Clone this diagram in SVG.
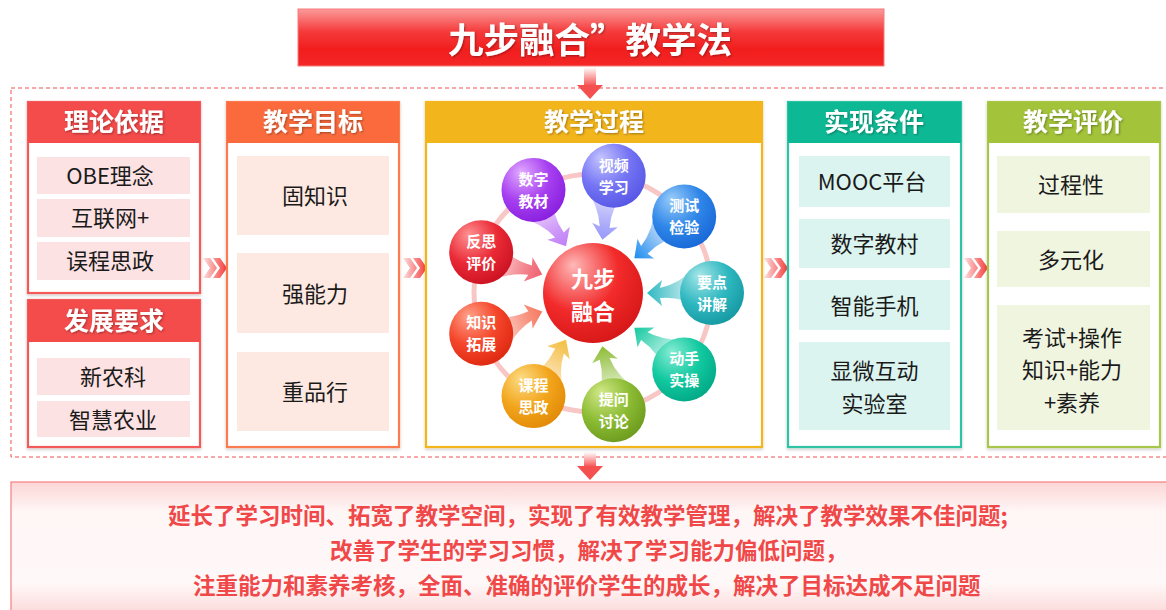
<svg xmlns="http://www.w3.org/2000/svg" width="1166" height="610" viewBox="0 0 1166 610">
<style>
text{font-family:"Noto Sans CJK SC","Noto Sans",sans-serif}
.hd{font-size:25px;font-weight:700;fill:#fff;text-anchor:middle}
.it{font-size:22px;fill:#1a1a1a;text-anchor:middle}
.ct{font-size:15px;font-weight:700;fill:#fff;text-anchor:middle}
.bt{font-size:22.5px;font-weight:700;fill:#f04848}
.box{fill:#fff;stroke-width:2.2}
</style>
<defs>
<filter id="sh" x="-10%" y="-10%" width="120%" height="120%"><feDropShadow dx="0" dy="1.5" stdDeviation="1.5" flood-color="#000" flood-opacity="0.22"/></filter>
<filter id="ts" x="-10%" y="-20%" width="120%" height="140%"><feDropShadow dx="1" dy="1" stdDeviation="1" flood-color="#000" flood-opacity="0.35"/></filter>
<linearGradient id="tg" x1="0" y1="0" x2="0" y2="1"><stop offset="0" stop-color="#fb9a9a"/><stop offset="0.4" stop-color="#f53a3a"/><stop offset="0.7" stop-color="#f21e1e"/><stop offset="1" stop-color="#f42626"/></linearGradient>
<linearGradient id="ag" x1="0" y1="0" x2="0" y2="1"><stop offset="0" stop-color="#fff"/><stop offset="1" stop-color="#f55050"/></linearGradient>
<linearGradient id="chg" x1="0" y1="0" x2="1" y2="0"><stop offset="0" stop-color="#fde0e0"/><stop offset="1" stop-color="#f43c3c"/></linearGradient>
<linearGradient id="bg" x1="0" y1="0" x2="0" y2="1"><stop offset="0" stop-color="#fcd6d6"/><stop offset="0.22" stop-color="#fff6f6"/><stop offset="0.75" stop-color="#fff8f8"/><stop offset="1" stop-color="#fcd6d6"/></linearGradient>
<path id="chev" d="M0,0 H7 L14,10 L7,20 H0 L7,10 Z M10,0 H17 L24,10 L17,20 H10 L17,10 Z"/>
<path id="arw" d="M54,0 L69,-13 Q68,-9 67,-5 Q86,-9 104,-27 L108,15 Q88,3 67,5 Q68,9 69,13 Z"/>
<radialGradient id="s0" cx="0.38" cy="0.32" r="0.75" fx="0.3" fy="0.22"><stop offset="0" stop-color="#ffb8b8"/><stop offset="0.55" stop-color="#f22a2a"/><stop offset="1" stop-color="#d41616"/></radialGradient>
<radialGradient id="s1" cx="0.38" cy="0.32" r="0.75" fx="0.3" fy="0.22"><stop offset="0" stop-color="#a6e6e8"/><stop offset="0.55" stop-color="#2fb8c0"/><stop offset="1" stop-color="#1396a0"/></radialGradient>
<radialGradient id="s2" cx="0.38" cy="0.32" r="0.75" fx="0.3" fy="0.22"><stop offset="0" stop-color="#86ecd4"/><stop offset="0.55" stop-color="#12c9a0"/><stop offset="1" stop-color="#00a684"/></radialGradient>
<radialGradient id="s3" cx="0.38" cy="0.32" r="0.75" fx="0.3" fy="0.22"><stop offset="0" stop-color="#d2e888"/><stop offset="0.55" stop-color="#8cbc34"/><stop offset="1" stop-color="#6a981c"/></radialGradient>
<radialGradient id="s4" cx="0.38" cy="0.32" r="0.75" fx="0.3" fy="0.22"><stop offset="0" stop-color="#fcdc84"/><stop offset="0.55" stop-color="#f2a51c"/><stop offset="1" stop-color="#e08806"/></radialGradient>
<radialGradient id="s5" cx="0.38" cy="0.32" r="0.75" fx="0.3" fy="0.22"><stop offset="0" stop-color="#ffa28a"/><stop offset="0.55" stop-color="#f4452a"/><stop offset="1" stop-color="#dc260e"/></radialGradient>
<radialGradient id="s6" cx="0.38" cy="0.32" r="0.75" fx="0.3" fy="0.22"><stop offset="0" stop-color="#ff9292"/><stop offset="0.55" stop-color="#ea2a36"/><stop offset="1" stop-color="#c81020"/></radialGradient>
<radialGradient id="s7" cx="0.38" cy="0.32" r="0.75" fx="0.3" fy="0.22"><stop offset="0" stop-color="#e2aaff"/><stop offset="0.55" stop-color="#a63ff0"/><stop offset="1" stop-color="#861cdc"/></radialGradient>
<radialGradient id="s8" cx="0.38" cy="0.32" r="0.75" fx="0.3" fy="0.22"><stop offset="0" stop-color="#c4c4ff"/><stop offset="0.55" stop-color="#7474f4"/><stop offset="1" stop-color="#5454e4"/></radialGradient>
<radialGradient id="s9" cx="0.38" cy="0.32" r="0.75" fx="0.3" fy="0.22"><stop offset="0" stop-color="#98ccfa"/><stop offset="0.55" stop-color="#2f86e8"/><stop offset="1" stop-color="#1666d6"/></radialGradient>
<linearGradient id="a1" x1="1" y1="0" x2="0" y2="0"><stop offset="0" stop-color="#2fb8c0" stop-opacity="0.08"/><stop offset="1" stop-color="#2fb8c0"/></linearGradient>
<linearGradient id="a2" x1="1" y1="0" x2="0" y2="0"><stop offset="0" stop-color="#12c9a0" stop-opacity="0.08"/><stop offset="1" stop-color="#12c9a0"/></linearGradient>
<linearGradient id="a3" x1="1" y1="0" x2="0" y2="0"><stop offset="0" stop-color="#8cbc34" stop-opacity="0.08"/><stop offset="1" stop-color="#8cbc34"/></linearGradient>
<linearGradient id="a4" x1="1" y1="0" x2="0" y2="0"><stop offset="0" stop-color="#f2a51c" stop-opacity="0.08"/><stop offset="1" stop-color="#f2c040"/></linearGradient>
<linearGradient id="a5" x1="1" y1="0" x2="0" y2="0"><stop offset="0" stop-color="#f4452a" stop-opacity="0.08"/><stop offset="1" stop-color="#f57a60"/></linearGradient>
<linearGradient id="a6" x1="1" y1="0" x2="0" y2="0"><stop offset="0" stop-color="#ea2a36" stop-opacity="0.08"/><stop offset="1" stop-color="#f06070"/></linearGradient>
<linearGradient id="a7" x1="1" y1="0" x2="0" y2="0"><stop offset="0" stop-color="#a63ff0" stop-opacity="0.08"/><stop offset="1" stop-color="#c080f8"/></linearGradient>
<linearGradient id="a8" x1="1" y1="0" x2="0" y2="0"><stop offset="0" stop-color="#7474f4" stop-opacity="0.08"/><stop offset="1" stop-color="#9898fa"/></linearGradient>
<linearGradient id="a9" x1="1" y1="0" x2="0" y2="0"><stop offset="0" stop-color="#2f86e8" stop-opacity="0.08"/><stop offset="1" stop-color="#1a8cf0"/></linearGradient>
</defs>

<!-- title -->
<g id="title">
<rect x="298" y="9" width="586" height="57" fill="url(#tg)" stroke="#f77a7a" stroke-width="1"/>
<text x="590" y="53" font-size="35.5" font-weight="700" fill="#fff" text-anchor="middle" filter="url(#ts)">九步融合”教学法</text>
</g>

<!-- frame -->
<rect id="frame" x="11" y="88" width="1160" height="369" fill="none" stroke="#f05050" stroke-width="1" stroke-dasharray="4 3"/>

<!-- connectors -->
<g id="connectors">
<rect x="584" y="67" width="12" height="19" fill="url(#ag)"/>
<polygon points="577,85 603,85 590,99" fill="#f55050"/>
<rect x="584" y="452" width="12" height="15" fill="url(#ag)"/>
<polygon points="577,466 603,466 590,480" fill="#f55050"/>
<use href="#chev" x="203" y="258" fill="url(#chg)"/>
<use href="#chev" x="403" y="258" fill="url(#chg)"/>
<use href="#chev" x="764" y="258" fill="url(#chg)"/>
<use href="#chev" x="964" y="258" fill="url(#chg)"/>
</g>

<!-- column 1a -->
<g id="n-lilun" filter="url(#sh)">
<rect class="box" x="28" y="102" width="172" height="191" stroke="#f55a5a"/>
<rect x="28" y="102" width="172" height="41" fill="#f44b4b"/>
<text class="hd" x="114" y="131" filter="url(#ts)">理论依据</text>
</g>
<g id="n-obe"><rect x="37" y="157" width="153" height="37" fill="#fde2e3"/><text class="it" x="110" y="184">OBE理念</text></g>
<g id="n-hlw"><rect x="37" y="199" width="153" height="38" fill="#fde2e3"/><text class="it" x="110" y="226">互联网+</text></g>
<g id="n-kcsz"><rect x="37" y="242" width="153" height="38" fill="#fde2e3"/><text class="it" x="110" y="269">误程思政</text></g>

<!-- column 1b -->
<g id="n-fazhan" filter="url(#sh)">
<rect class="box" x="28" y="300" width="172" height="147" stroke="#f55a5a"/>
<rect x="28" y="300" width="172" height="42" fill="#f44b4b"/>
<text class="hd" x="114" y="329.5" filter="url(#ts)">发展要求</text>
</g>
<g id="n-xnk"><rect x="37" y="358" width="153" height="37" fill="#fde2e3"/><text class="it" x="113" y="385">新农科</text></g>
<g id="n-zhny"><rect x="37" y="401" width="153" height="36" fill="#fde2e3"/><text class="it" x="113" y="427.5">智慧农业</text></g>

<!-- column 2 -->
<g id="n-mubiao" filter="url(#sh)">
<rect class="box" x="227" y="102" width="172" height="345" stroke="#fb7a50"/>
<rect x="227" y="102" width="172" height="41" fill="#fa6b3c"/>
<text class="hd" x="313" y="131" filter="url(#ts)">教学目标</text>
</g>
<g id="n-gzs"><rect x="237" y="156" width="152" height="79" fill="#fde9e1"/><text class="it" x="315" y="204">固知识</text></g>
<g id="n-qnl"><rect x="237" y="253" width="152" height="80" fill="#fde9e1"/><text class="it" x="315" y="301.5">强能力</text></g>
<g id="n-zpx"><rect x="237" y="352" width="152" height="79" fill="#fde9e1"/><text class="it" x="315" y="400">重品行</text></g>

<!-- column 3 -->
<g id="n-guocheng" filter="url(#sh)">
<rect class="box" x="426" y="102" width="336" height="345" stroke="#f2b51e"/>
<rect x="426" y="102" width="336" height="41" fill="#f2b51e"/>
<text class="hd" x="594" y="131" filter="url(#ts)">教学过程</text>
</g>
<circle id="ring" cx="593" cy="293" r="119" fill="none" stroke="#f9c6c6" stroke-width="5"/>
<g id="arrows">
<use href="#arw" transform="translate(593,293) rotate(0)" fill="url(#a1)"/>
<use href="#arw" transform="translate(593,293) rotate(40)" fill="url(#a2)"/>
<use href="#arw" transform="translate(593,293) rotate(80)" fill="url(#a3)"/>
<use href="#arw" transform="translate(593,293) rotate(120)" fill="url(#a4)"/>
<use href="#arw" transform="translate(593,293) rotate(160)" fill="url(#a5)"/>
<use href="#arw" transform="translate(593,293) rotate(200)" fill="url(#a6)"/>
<use href="#arw" transform="translate(593,293) rotate(240)" fill="url(#a7)"/>
<use href="#arw" transform="translate(593,293) rotate(280)" fill="url(#a8)"/>
<use href="#arw" transform="translate(593,293) rotate(320)" fill="url(#a9)"/>
</g>
<g id="n-center" transform="translate(593,293)"><circle r="50" fill="url(#s0)"/><text class="ct" style="font-size:22px"><tspan x="0" y="-5.6">九步</tspan><tspan x="0" y="27.4">融合</tspan></text></g>
<g id="n-ydjj" transform="translate(712,293)"><circle r="32" fill="url(#s1)"/><text class="ct"><tspan x="0" y="-5.3">要点</tspan><tspan x="0" y="16.7">讲解</tspan></text></g>
<g id="n-dssc" transform="translate(684.2,369.5)"><circle r="32" fill="url(#s2)"/><text class="ct"><tspan x="0" y="-5.3">动手</tspan><tspan x="0" y="16.7">实操</tspan></text></g>
<g id="n-twtl" transform="translate(613.7,410.2)"><circle r="32" fill="url(#s3)"/><text class="ct"><tspan x="0" y="-5.3">提问</tspan><tspan x="0" y="16.7">讨论</tspan></text></g>
<g id="n-kcsz2" transform="translate(533.5,396.1)"><circle r="32" fill="url(#s4)"/><text class="ct"><tspan x="0" y="-5.3">课程</tspan><tspan x="0" y="16.7">思政</tspan></text></g>
<g id="n-zstz" transform="translate(481.2,333.7)"><circle r="32" fill="url(#s5)"/><text class="ct"><tspan x="0" y="-5.3">知识</tspan><tspan x="0" y="16.7">拓展</tspan></text></g>
<g id="n-fspj" transform="translate(481.2,252.3)"><circle r="32" fill="url(#s6)"/><text class="ct"><tspan x="0" y="-5.3">反思</tspan><tspan x="0" y="16.7">评价</tspan></text></g>
<g id="n-szjc" transform="translate(533.5,189.9)"><circle r="32" fill="url(#s7)"/><text class="ct"><tspan x="0" y="-5.3">数字</tspan><tspan x="0" y="16.7">教材</tspan></text></g>
<g id="n-spxx" transform="translate(613.7,175.8)"><circle r="32" fill="url(#s8)"/><text class="ct"><tspan x="0" y="-5.3">视频</tspan><tspan x="0" y="16.7">学习</tspan></text></g>
<g id="n-csjy" transform="translate(684.2,216.5)"><circle r="32" fill="url(#s9)"/><text class="ct"><tspan x="0" y="-5.3">测试</tspan><tspan x="0" y="16.7">检验</tspan></text></g>

<!-- column 4 -->
<g id="n-tiaojian" filter="url(#sh)">
<rect class="box" x="788" y="102" width="173" height="345" stroke="#2fc3a3"/>
<rect x="788" y="102" width="173" height="41" fill="#0bb894"/>
<text class="hd" x="874" y="131" filter="url(#ts)">实现条件</text>
</g>
<g id="n-mooc"><rect x="799" y="156" width="151" height="51" fill="#dcf4ef"/><text class="it" x="872" y="190">MOOC平台</text></g>
<g id="n-szjc2"><rect x="799" y="219" width="151" height="49" fill="#dcf4ef"/><text class="it" x="874.5" y="252">数字教村</text></g>
<g id="n-znsj"><rect x="799" y="280" width="151" height="50" fill="#dcf4ef"/><text class="it" x="874.5" y="313.5">智能手机</text></g>
<g id="n-xwhd"><rect x="799" y="342" width="151" height="88" fill="#dcf4ef"/><text class="it"><tspan x="874.5" y="378.5">显微互动</tspan><tspan x="874.5" y="411.5">实验室</tspan></text></g>

<!-- column 5 -->
<g id="n-pingjia" filter="url(#sh)">
<rect class="box" x="988" y="102" width="172" height="345" stroke="#a8c64a"/>
<rect x="988" y="102" width="172" height="41" fill="#a3c33a"/>
<text class="hd" x="1073" y="131" filter="url(#ts)">教学评价</text>
</g>
<g id="n-gcx"><rect x="997" y="156" width="153" height="57" fill="#f0f5e0"/><text class="it" x="1071" y="193">过程性</text></g>
<g id="n-dyh"><rect x="997" y="231" width="153" height="56" fill="#f0f5e0"/><text class="it" x="1071" y="267.5">多元化</text></g>
<g id="n-ks"><rect x="997" y="305" width="153" height="125" fill="#f0f5e0"/><text class="it"><tspan x="1072" y="345.5">考试+操作</tspan><tspan x="1072" y="377.5">知识+能力</tspan><tspan x="1072" y="410.5">+素养</tspan></text></g>

<!-- result -->
<g id="n-result">
<rect x="11" y="482" width="1165" height="135" fill="url(#bg)" stroke="#f58080" stroke-width="1.2"/>
<text class="bt" x="168" y="523.5">延长了学习时间、拓宽了教学空间，实现了有效教学管理，解决了教学效果不佳问题;</text>
<text class="bt" x="330" y="558.5">改善了学生的学习习惯，解决了学习能力偏低问题，</text>
<text class="bt" x="193" y="593.5">注重能力和素养考核，全面、准确的评价学生的成长，解决了目标达成不足问题</text>
</g>
</svg>
